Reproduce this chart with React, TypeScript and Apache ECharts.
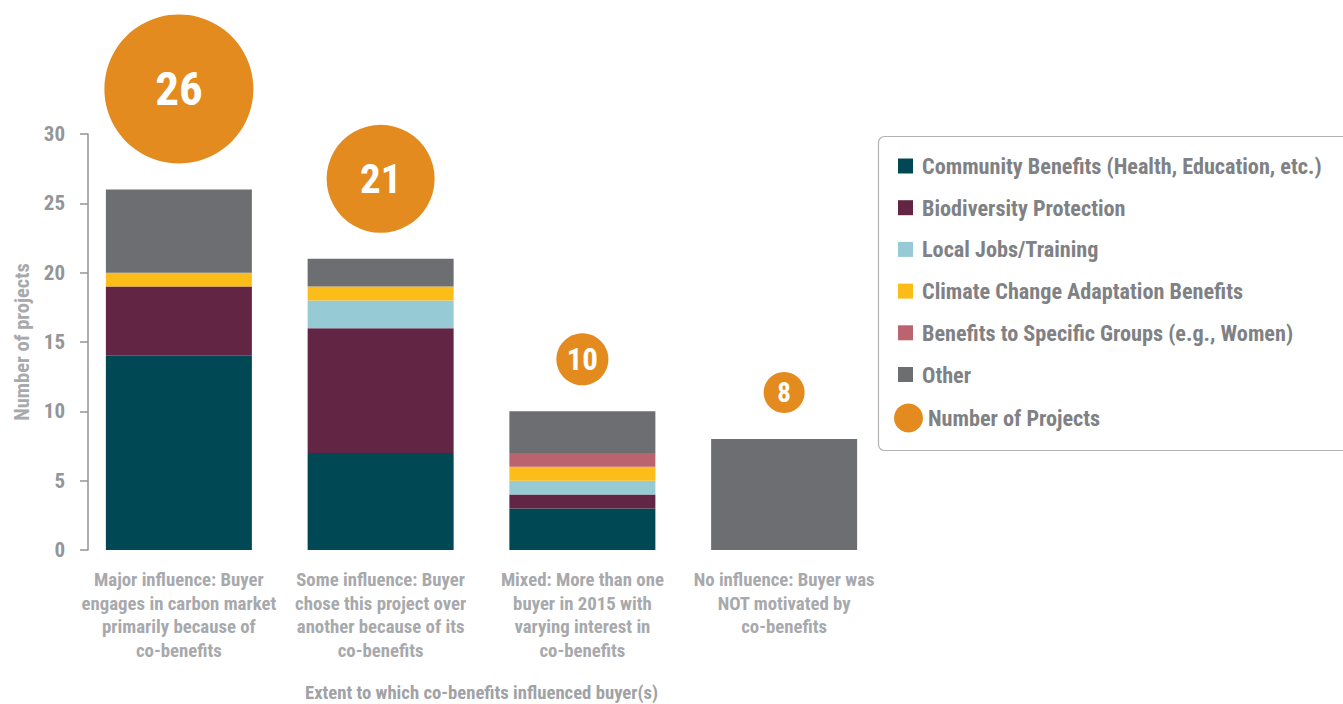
import React, { useEffect, useRef } from "react";
import * as echarts from "echarts";

// ---- data ----
const categories = [
  "Major influence: Buyer\nengages in carbon market\nprimarily because of\nco-benefits",
  "Some influence: Buyer\nchose this project over\nanother because of its\nco-benefits",
  "Mixed: More than one\nbuyer in 2015 with\nvarying interest in\nco-benefits",
  "No influence: Buyer was\nNOT motivated by\nco-benefits",
];
const seriesNames = [
  "Community Benefits (Health, Education, etc.)",
  "Biodiversity Protection",
  "Local Jobs/Training",
  "Climate Change Adaptation Benefits",
  "Benefits to Specific Groups (e.g., Women)",
  "Other",
];
const community = [14, 7, 3, 0];
const biodiversity = [5, 9, 1, 0];
const localJobs = [0, 2, 1, 0];
const climateAdaptation = [1, 1, 1, 0];
const specificGroups = [0, 0, 1, 0];
const other = [6, 2, 3, 8];
const projectCounts = [26, 21, 10, 8];
const bubbleName = "Number of Projects";
const yAxisName = "Number of projects";
const xAxisName = "Extent to which co-benefits influenced buyer(s)";

// ---- styles ----
const FONT = "'Roboto Condensed', Roboto, 'Liberation Sans', sans-serif";
const barColors = ["#004853", "#632544", "#96cad5", "#fcbd18", "#bb636f", "#6d6e72"];
const bubbleColor = "#e38b1e";
const bubbleDiameters = [149, 108, 52, 41];
const bubbleFontSizes = [47, 41, 31, 27];
const bubbleGap = 26;

export default function App() {
  const ref = useRef<HTMLDivElement>(null);
  useEffect(() => {
    if (!ref.current) return;
    const chart = echarts.init(ref.current, null, { renderer: "svg" });
    const stacks = [community, biodiversity, localJobs, climateAdaptation, specificGroups, other];
    const barSeries = stacks.map((arr, i) => ({
      name: seriesNames[i],
      type: "bar",
      stack: "total",
      barWidth: 146,
      data: arr,
      itemStyle: { color: barColors[i] },
    }));
    const legendText = {
      fontFamily: FONT,
      fontSize: 22.2,
      fontWeight: "bold",
      color: "#7f8184",
      lineHeight: 24,
    };
    const option: any = {
      animation: false,
      backgroundColor: "#ffffff",
      textStyle: { fontFamily: FONT },
      grid: {
        left: 78,
        right: 458,
        top: 134,
        bottom: 154,
        containLabel: false,
        outerBoundsMode: "none",
      },
      graphic: [
        {
          type: "rect",
          shape: { x: 878.5, y: 136.5, width: 480, height: 314, r: 6 },
          style: { fill: "transparent", stroke: "#b3b3b3", lineWidth: 1.2 },
          silent: true,
        },
      ],
      legend: [
        {
          orient: "vertical",
          left: 898,
          top: 154,
          padding: 0,
          itemWidth: 15,
          itemHeight: 15,
          itemGap: 17.7,
          icon: "rect",
          selectedMode: false,
          data: seriesNames,
          textStyle: { ...legendText, padding: [0, 0, 0, 4] },
        },
        {
          orient: "vertical",
          left: 894,
          top: 403.5,
          padding: 0,
          itemWidth: 29,
          itemHeight: 29,
          icon: "circle",
          selectedMode: false,
          data: [bubbleName],
          textStyle: legendText,
        },
      ],
      xAxis: {
        type: "category",
        data: categories,
        axisLine: { show: false },
        axisTick: { show: false },
        axisLabel: {
          interval: 0,
          margin: 18,
          fontFamily: FONT,
          fontSize: 18.8,
          lineHeight: 23.7,
          fontWeight: "bold",
          color: "#a7a9ac",
        },
        name: xAxisName,
        nameLocation: "middle",
        nameGap: 133,
        nameTextStyle: { fontFamily: FONT, fontSize: 18.7, fontWeight: "bold", color: "#a0a2a5" },
      },
      yAxis: {
        type: "value",
        min: 0,
        max: 30,
        interval: 5,
        offset: -10,
        splitLine: { show: false },
        axisLine: { show: true, lineStyle: { color: "#939598", width: 1.5 } },
        axisTick: { show: true, length: 8, lineStyle: { color: "#939598", width: 1.5 } },
        axisLabel: {
          margin: 23,
          fontFamily: FONT,
          fontSize: 21,
          fontWeight: "bold",
          color: "#939598",
        },
        name: yAxisName,
        nameLocation: "middle",
        nameRotate: 90,
        nameGap: 56,
        nameTextStyle: { fontFamily: FONT, fontSize: 20.5, fontWeight: "bold", color: "#a7a9ac" },
      },
      series: [
        ...barSeries,
        {
          name: bubbleName,
          type: "scatter",
          z: 10,
          itemStyle: { color: bubbleColor, opacity: 1 },
          label: {
            show: true,
            position: "inside",
            formatter: "{c}",
            color: "#ffffff",
            fontFamily: FONT,
            fontWeight: "bold",
          },
          data: projectCounts.map((v, i) => ({
            value: v,
            symbolSize: bubbleDiameters[i],
            symbolOffset: [0, -(bubbleDiameters[i] / 2 + bubbleGap)],
            label: { fontSize: bubbleFontSizes[i] },
          })),
        },
      ],
    };
    chart.setOption(option);
    return () => chart.dispose();
  }, []);
  return (
    <div
      ref={ref}
      style={{ position: "fixed", left: 0, top: 0, width: 1343, height: 704, background: "#fff" }}
    />
  );
}
